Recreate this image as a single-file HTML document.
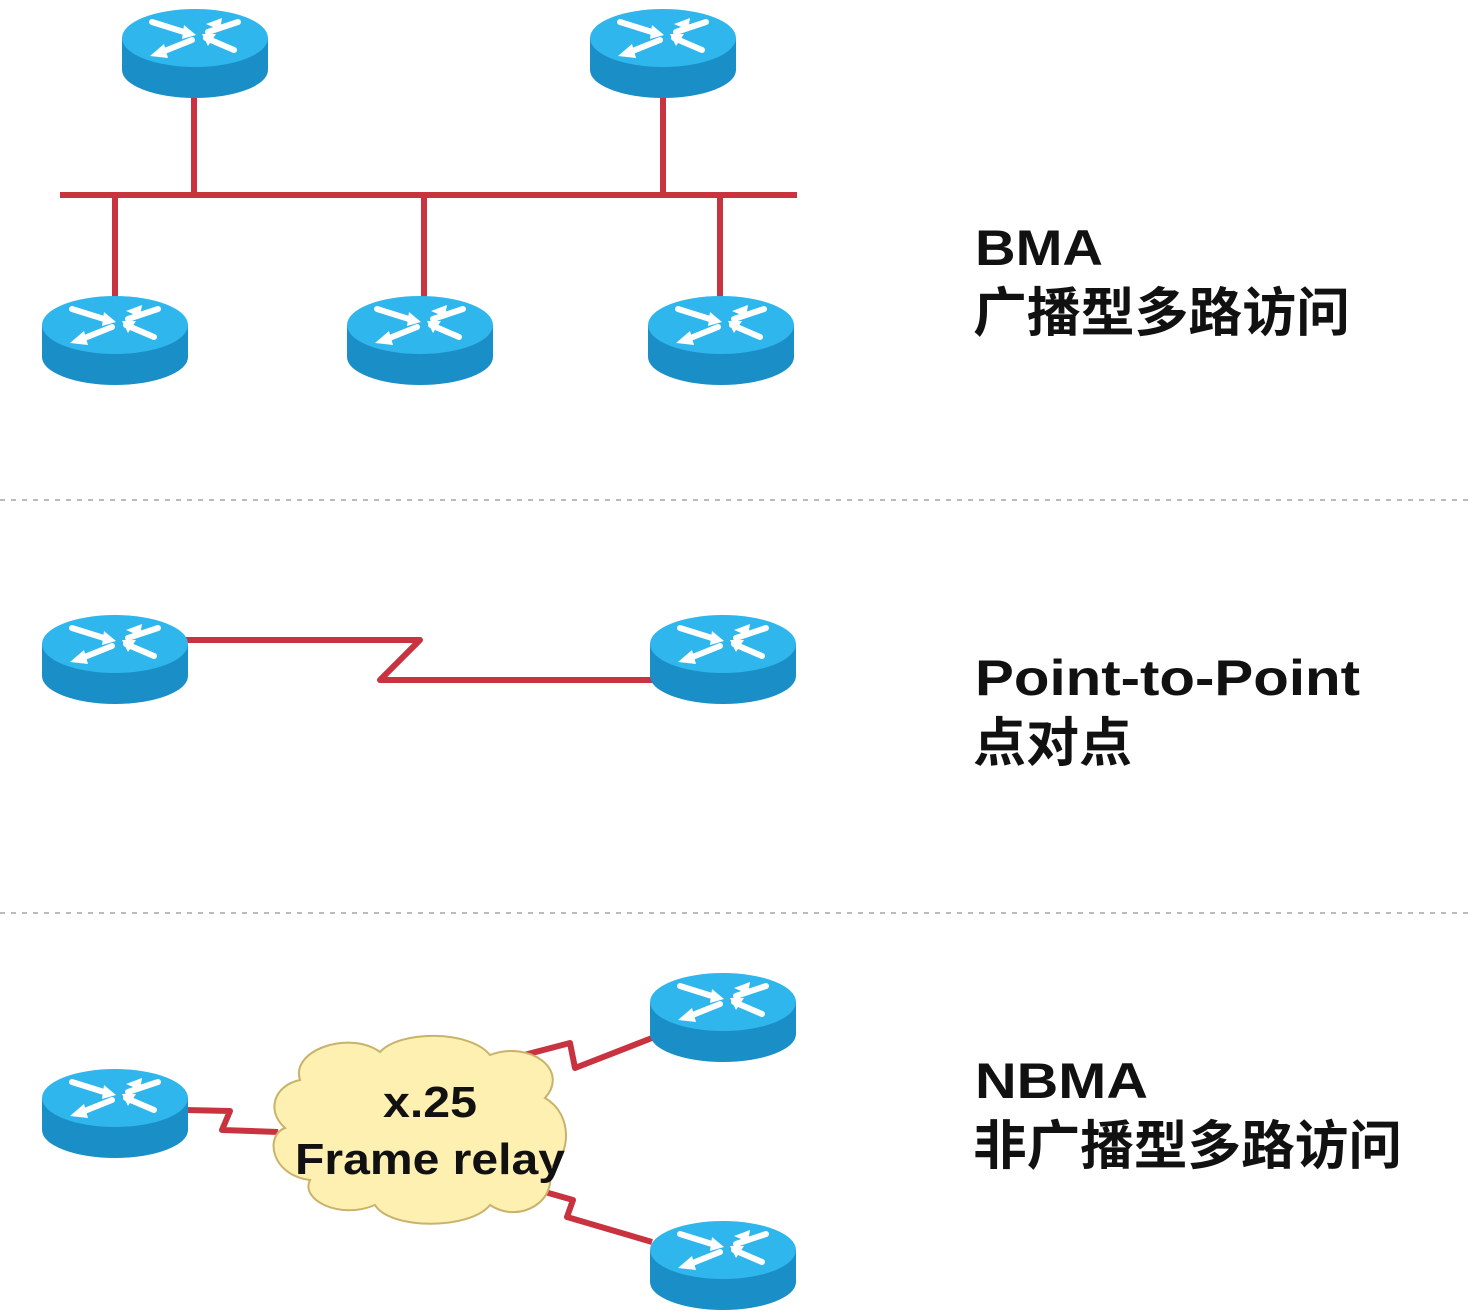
<!DOCTYPE html>
<html><head><meta charset="utf-8"><style>
html,body{margin:0;padding:0;background:#fff;}
svg{display:block;}
text{font-family:"Liberation Sans","Noto Sans CJK SC",sans-serif;font-weight:bold;fill:#111;}
</style></head><body>
<svg width="1474" height="1316" viewBox="0 0 1474 1316" xmlns="http://www.w3.org/2000/svg">
<defs>
<g id="r">
  <path d="M0,30 L0,62 A73,28 0 0 0 146,62 L146,30 Z" fill="#1a8ec6"/>
  <ellipse cx="73" cy="30" rx="73" ry="29" fill="#2fb6ec"/>
  <g stroke="#fff" stroke-width="6" fill="#fff" stroke-linecap="round">
    <line x1="30" y1="14" x2="62" y2="24"/><polygon points="62,17 74,27 60,31" stroke="none"/>
    <line x1="116" y1="14" x2="86" y2="24"/><polygon points="84,16 100,10 98,22" stroke="none"/>
    <line x1="70" y1="32" x2="40" y2="44"/><polygon points="42,36 28,48 46,50" stroke="none"/>
    <line x1="84" y1="30" x2="112" y2="42"/><polygon points="80,26 94,26 86,38" stroke="none"/>
  </g>
</g>
</defs>
<g stroke="#c9333f" stroke-width="6" fill="none" stroke-linejoin="round">
  <line x1="60" y1="195" x2="797" y2="195"/>
  <line x1="194" y1="95" x2="194" y2="195"/>
  <line x1="663" y1="95" x2="663" y2="195"/>
  <line x1="115" y1="195" x2="115" y2="300"/>
  <line x1="424" y1="195" x2="424" y2="300"/>
  <line x1="720" y1="195" x2="720" y2="300"/>
  <polyline points="185,640 420,640 380,680 655,680"/>
  <polyline points="185,1110 230,1111 222,1130 278,1132"/>
  <polyline points="505,1060 570,1043 575,1068 652,1038"/>
  <polyline points="545,1192 573,1200 567,1217 652,1242"/>
</g>
<line x1="0" y1="500" x2="1474" y2="500" stroke="#bbb" stroke-width="2" stroke-dasharray="5,6"/>
<line x1="0" y1="913" x2="1474" y2="913" stroke="#bbb" stroke-width="2" stroke-dasharray="5,6"/>
<use href="#r" x="122" y="8"/>
<use href="#r" x="590" y="8"/>
<use href="#r" x="42" y="295"/>
<use href="#r" x="347" y="295"/>
<use href="#r" x="648" y="295"/>
<use href="#r" x="42" y="614"/>
<use href="#r" x="650" y="614"/>
<use href="#r" x="42" y="1068"/>
<use href="#r" x="650" y="972"/>
<use href="#r" x="650" y="1220"/>
<path d="M300,1080 C290,1050 350,1030 380,1052 C400,1030 470,1030 490,1055 C530,1040 570,1070 545,1098 C575,1115 570,1160 548,1168 C560,1200 520,1225 490,1205 C470,1230 390,1230 375,1205 C340,1220 300,1200 310,1180 C270,1175 265,1135 285,1128 C265,1110 275,1085 300,1080 Z" fill="#fdf0b0" stroke="#c9b26a" stroke-width="2"/>
<text x="383" y="1117" font-size="44" textLength="94" lengthAdjust="spacingAndGlyphs">x.25</text>
<text x="295" y="1174" font-size="44" textLength="270" lengthAdjust="spacingAndGlyphs">Frame relay</text>
<text x="975" y="265" font-size="50" textLength="128" lengthAdjust="spacingAndGlyphs">BMA</text>
<text x="973" y="331" font-size="53" textLength="377" lengthAdjust="spacingAndGlyphs">广播型多路访问</text>
<text x="975" y="695" font-size="50" textLength="385" lengthAdjust="spacingAndGlyphs">Point-to-Point</text>
<text x="973" y="761" font-size="53">点对点</text>
<text x="975" y="1098" font-size="50" textLength="173" lengthAdjust="spacingAndGlyphs">NBMA</text>
<text x="973" y="1164" font-size="53" textLength="429" lengthAdjust="spacingAndGlyphs">非广播型多路访问</text>
</svg>
</body></html>
